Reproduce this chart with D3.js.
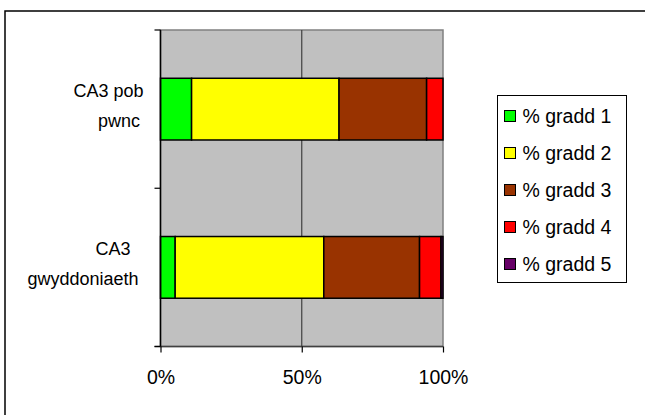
<!DOCTYPE html>
<html>
<head>
<meta charset="utf-8">
<script src="https://cdn.jsdelivr.net/npm/d3@7"></script>
<style>
  html, body { margin: 0; padding: 0; background: #fff; }
  svg { display: block; font-family: "Liberation Sans", Arial, sans-serif; }
</style>
</head>
<body>
<svg id="chart" width="645" height="415"></svg>
<script>
// Categories (top to bottom) and their wrapped label lines
const categories = ["CA3 pob pwnc", "CA3 gwyddoniaeth"];
const categoryLines = [["CA3 pob", "pwnc"], ["CA3", "gwyddoniaeth"]];
// Series names and colours
const seriesNames = ["% gradd 1", "% gradd 2", "% gradd 3", "% gradd 4", "% gradd 5"];
const seriesColors = ["#00ff00", "#ffff00", "#993300", "#ff0000", "#660066"];
// Percentage of pupils per grade, one array per series (index = category)
const gradd1 = [11.0, 5.2];
const gradd2 = [52.2, 52.6];
const gradd3 = [31.0, 33.9];
const gradd4 = [5.8, 7.6];
const gradd5 = [0.0, 0.7];
const seriesValues = [gradd1, gradd2, gradd3, gradd4, gradd5];
// Axis ticks
const xTicks = [0, 50, 100];

const svg = d3.select("#chart");

// Chart frame
svg.append("rect")
  .attr("x", 5).attr("y", 11)
  .attr("width", 700).attr("height", 500)
  .attr("fill", "#fff").attr("stroke", "#000").attr("stroke-width", 1.5);

const plot = { left: 160.5, right: 443, top: 30, bottom: 346.5 };

const x = d3.scaleLinear().domain([0, 100]).range([plot.left, plot.right]);
const y = d3.scaleBand().domain(categories)
  .range([plot.top, plot.bottom])
  .paddingInner(0.61).paddingOuter(0.305);

// Plot area
svg.append("rect")
  .attr("x", plot.left).attr("y", plot.top)
  .attr("width", plot.right - plot.left).attr("height", plot.bottom - plot.top)
  .attr("fill", "#c0c0c0").attr("stroke", "#808080").attr("stroke-width", 1.5);

// Vertical gridlines
svg.append("g").selectAll("line")
  .data(xTicks.filter(t => t > 0 && t < 100))
  .join("line")
  .attr("x1", d => x(d)).attr("x2", d => x(d))
  .attr("y1", plot.top).attr("y2", plot.bottom)
  .attr("stroke", "#404040").attr("stroke-width", 1.2);

// Stacked bars
const stackData = categories.map((c, i) => {
  const o = { cat: c };
  seriesNames.forEach((s, k) => { o[s] = seriesValues[k][i]; });
  return o;
});
const stacked = d3.stack().keys(seriesNames)(stackData);

svg.append("g").selectAll("g")
  .data(stacked)
  .join("g")
  .attr("fill", (d, k) => seriesColors[k])
  .selectAll("rect")
  .data(d => d.filter(p => p[1] - p[0] > 0))
  .join("rect")
  .attr("x", p => x(p[0]))
  .attr("width", p => x(p[1]) - x(p[0]))
  .attr("y", p => y(p.data.cat))
  .attr("height", y.bandwidth())
  .attr("stroke", "#000").attr("stroke-width", 1.5);

// Bottom axis
const xAxis = d3.axisBottom(x).tickValues(xTicks)
  .tickFormat(d => d + "%").tickSize(6).tickPadding(17.5);
const gx = svg.append("g")
  .attr("transform", `translate(0,${plot.bottom})`)
  .call(xAxis);
gx.select(".domain").attr("d", `M${plot.left - 6},0H${plot.right}`)
  .attr("stroke", "#404040").attr("stroke-width", 1.5);
gx.selectAll(".tick line").attr("stroke", "#000").attr("stroke-width", 1.2);
gx.selectAll(".tick text")
  .attr("font-size", 19.5).attr("fill", "#000")
  .attr("font-family", "Liberation Sans, Arial, sans-serif");

// Left axis: separators between categories
const bounds = [plot.top].concat(categories.map(c => y(c) - y.step() * y.paddingInner() / 2 + y.step()));
const gy = svg.append("g");
gy.append("line")
  .attr("x1", plot.left).attr("x2", plot.left)
  .attr("y1", plot.top).attr("y2", plot.bottom)
  .attr("stroke", "#000").attr("stroke-width", 1.5);
gy.selectAll("line.tick")
  .data(bounds)
  .join("line").attr("class", "tick")
  .attr("x1", plot.left - 6).attr("x2", plot.left)
  .attr("y1", d => d).attr("y2", d => d)
  .attr("stroke", "#000").attr("stroke-width", 1.2);

// Category labels, two wrapped lines each; per-line horizontal centres
const lineCentres = [[108.5, 119], [113, 83]];
categoryLines.forEach((lines, i) => {
  const cy = y(categories[i]) + y.bandwidth() / 2;
  const t = svg.append("text")
    .attr("font-size", 18).attr("fill", "#000")
    .attr("text-anchor", "middle");
  lines.forEach((ln, j) => {
    t.append("tspan")
      .attr("x", lineCentres[i][j])
      .attr("y", cy - 12 + j * 30)
      .text(ln);
  });
});

// Legend
const lg = svg.append("g");
lg.append("rect")
  .attr("x", 497.5).attr("y", 95.5)
  .attr("width", 129).attr("height", 187)
  .attr("fill", "#fff").attr("stroke", "#000").attr("stroke-width", 1);
const items = lg.selectAll("g.item")
  .data(seriesNames)
  .join("g").attr("class", "item")
  .attr("transform", (d, k) => `translate(504,${116 + k * 37})`);
items.append("rect")
  .attr("x", 0.5).attr("y", -5.5)
  .attr("width", 11).attr("height", 11)
  .attr("fill", (d, k) => seriesColors[k])
  .attr("stroke", "#000").attr("stroke-width", 1);
items.append("text")
  .attr("x", 18.5).attr("y", 7)
  .attr("font-size", 19.5).attr("fill", "#000")
  .text(d => d);
</script>
</body>
</html>
